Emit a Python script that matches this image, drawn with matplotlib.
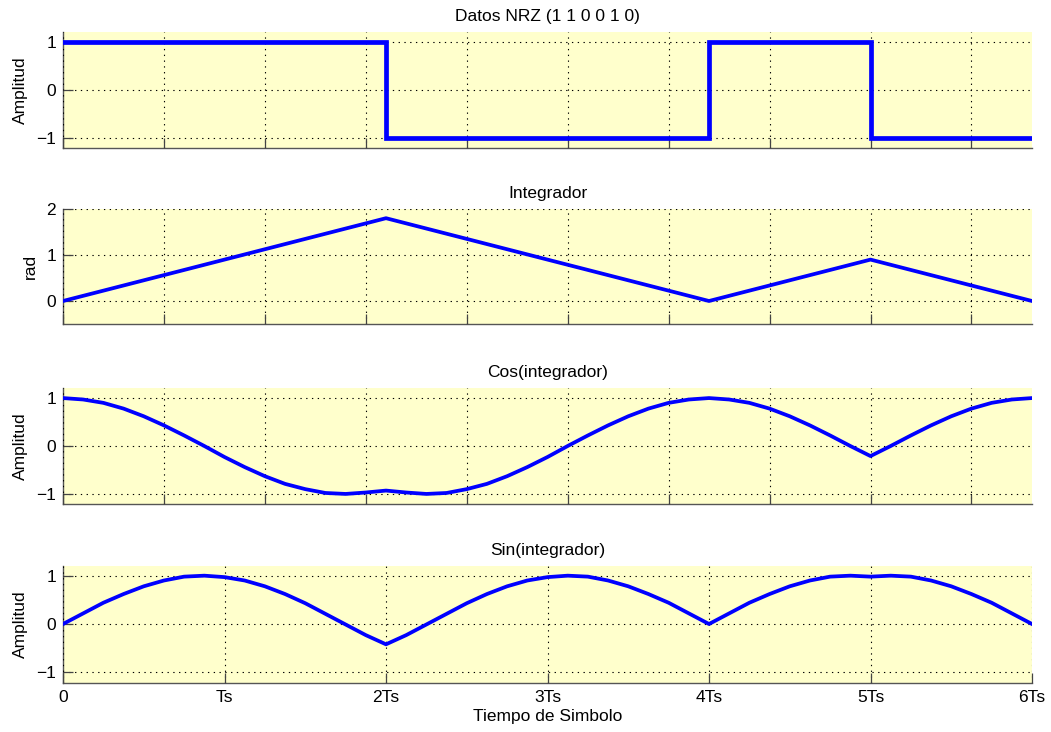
import numpy as np
import matplotlib
matplotlib.use("Agg")
import matplotlib.pyplot as plt

plt.rcParams['font.family'] = ['Liberation Sans', 'DejaVu Sans']

# ---- data (time in symbol periods Ts) ----
bits = [1, 1, 0, 0, 1, 0]
bit_edges = [0, 1, 2, 3, 4, 5, 6]

integ_t = [0, 2, 4, 5, 6]
integ_v = [0.0, 1.8, 0.0, 0.9, 0.0]

curve_t = [i * 0.125 for i in range(49)]
cos_v = [1.00, 0.97, 0.90, 0.78, 0.62, 0.43, 0.22, 0.00, -0.23, -0.44, -0.63, -0.79,
         -0.90, -0.98, -1.00, -0.97, -0.93,
         -0.97, -1.00, -0.98, -0.90, -0.79, -0.63, -0.44, -0.23, 0.00, 0.22, 0.43,
         0.62, 0.78, 0.90, 0.97, 1.00,
         0.97, 0.90, 0.78, 0.62, 0.43, 0.22, 0.00, -0.21,
         0.00, 0.22, 0.43, 0.62, 0.78, 0.90, 0.97, 1.00]
sin_v = [0.00, 0.22, 0.44, 0.62, 0.78, 0.90, 0.98, 1.00, 0.97, 0.90, 0.78, 0.62,
         0.43, 0.21, -0.01, -0.23, -0.42,
         -0.23, -0.01, 0.21, 0.43, 0.62, 0.78, 0.90, 0.97, 1.00, 0.98, 0.90,
         0.78, 0.62, 0.44, 0.22, 0.00,
         0.22, 0.44, 0.62, 0.78, 0.90, 0.98, 1.00, 0.98,
         1.00, 0.98, 0.90, 0.78, 0.62, 0.44, 0.22, 0.00]

x_tick_labels = ['0', 'Ts', '2Ts', '3Ts', '4Ts', '5Ts', '6Ts']
titles = ['Datos NRZ (1 1 0 0 1 0)', 'Integrador', 'Cos(integrador)', 'Sin(integrador)']
ylabels = ['Amplitud', 'rad', 'Amplitud', 'Amplitud']

nrz_levels = [1 if b else -1 for b in bits]

W, H = 1051, 732
fig = plt.figure(figsize=(W / 100, H / 100), dpi=100)

FS = 12.5

# axes boxes in pixels: (top, bottom)
boxes = [(32, 148), (209, 324), (388, 504), (566, 683)]
left_px, right_px = 63, 1032
ylims = [(-1.22, 1.22), (-0.5, 2.0), (-1.21, 1.21), (-1.22, 1.2)]
yticks = [[-1, 0, 1], [0, 1, 2], [-1, 0, 1], [-1, 0, 1]]

axes = []
for (top, bot) in boxes:
    ax = fig.add_axes([left_px / W, 1 - bot / H, (right_px - left_px) / W, (bot - top) / H])
    axes.append(ax)

blue = '#0000ff'
axes[0].plot(bit_edges, nrz_levels + [nrz_levels[-1]], drawstyle='steps-post',
             color=blue, lw=3.4, solid_joinstyle='miter')
axes[1].plot(integ_t, integ_v, color=blue, lw=2.7)
axes[2].plot(curve_t, cos_v, color=blue, lw=2.7)
axes[3].plot(curve_t, sin_v, color=blue, lw=2.7)

fine_ticks = [k * 0.625 for k in range(10)]

for i, ax in enumerate(axes):
    ax.set_facecolor('#ffffcc')
    ax.set_xlim(0, 6)
    ax.set_ylim(*ylims[i])
    ax.set_yticks(yticks[i])
    ax.set_yticklabels([str(v).replace('-', '\u2212') for v in yticks[i]])
    if i < 3:
        ax.set_xticks(fine_ticks)
        ax.set_xticklabels([])
    else:
        ax.set_xticks(range(7))
        ax.set_xticklabels(x_tick_labels)
        ax.set_xlabel('Tiempo de Simbolo', fontsize=FS, labelpad=3)
    for s in ['top', 'right']:
        ax.spines[s].set_visible(False)
    for s in ['left', 'bottom']:
        ax.spines[s].set_color('#555555')
        ax.spines[s].set_linewidth(1.0)
    ax.tick_params(direction='in', length=7, width=0.9, color='#444444',
                   labelsize=FS, pad=5)
    ax.grid(True, color='black', linestyle=(0, (1.2, 4)), linewidth=0.8)
    ax.set_axisbelow(False)
    ax.set_title(titles[i], fontsize=FS, pad=8)
    ax.set_ylabel(ylabels[i], fontsize=FS, labelpad=6)
    for line in ax.get_lines():
        line.set_zorder(3)

fig.savefig('out.png', dpi=100, facecolor='white')
